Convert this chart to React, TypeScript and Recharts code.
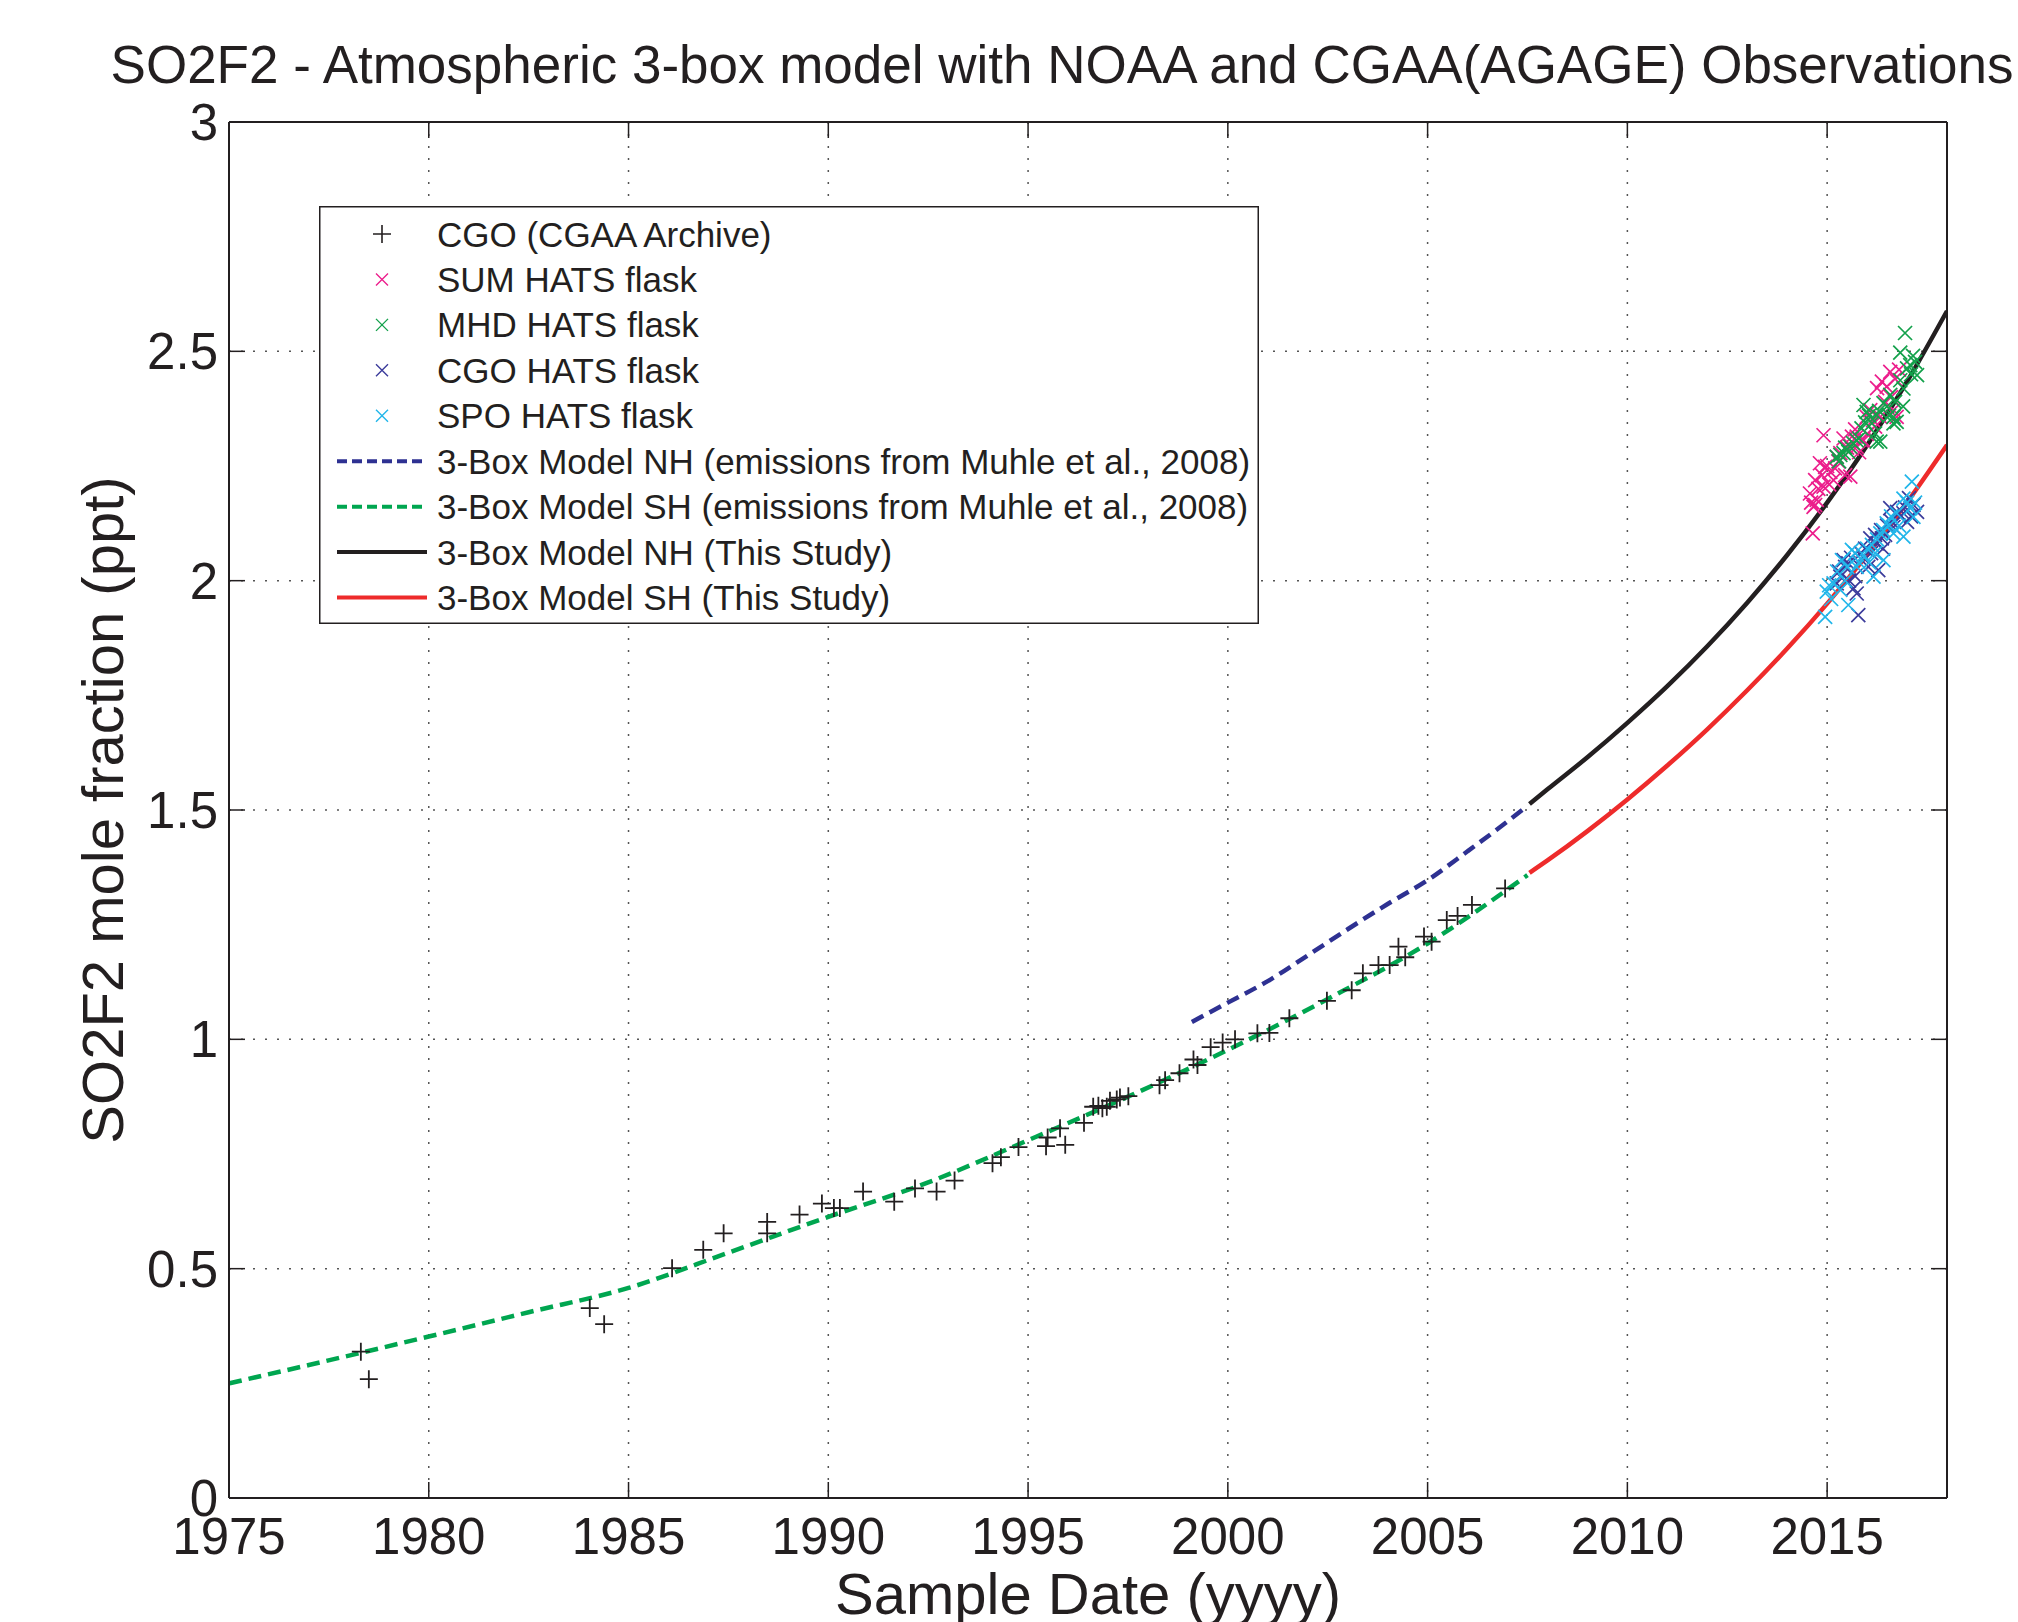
import React from 'react';
import { ComposedChart, Line, Scatter, XAxis, YAxis, CartesianGrid, Legend } from 'recharts';

const xTicks = [1975, 1980, 1985, 1990, 1995, 2000, 2005, 2010, 2015];
const yTicks = [0, 0.5, 1, 1.5, 2, 2.5, 3];

const cgoArchive: [number, number][] = [
  [1978.3, 0.319], [1978.5, 0.259], [1984.03, 0.414], [1984.39, 0.379], [1986.09, 0.501],
  [1986.87, 0.541], [1987.38, 0.577], [1988.47, 0.602], [1988.47, 0.577], [1989.28, 0.618],
  [1989.84, 0.642], [1990.14, 0.632], [1990.29, 0.632], [1990.87, 0.668], [1991.65, 0.646],
  [1992.17, 0.675], [1992.71, 0.668], [1993.16, 0.692], [1994.11, 0.73], [1994.32, 0.743],
  [1994.76, 0.765], [1995.45, 0.767], [1995.49, 0.786], [1995.8, 0.806], [1995.93, 0.77],
  [1996.4, 0.818], [1996.63, 0.853], [1996.76, 0.855], [1996.86, 0.85], [1996.97, 0.853],
  [1997.05, 0.866], [1997.22, 0.869], [1997.3, 0.873], [1997.51, 0.876], [1998.29, 0.9],
  [1998.43, 0.911], [1998.79, 0.926], [1999.14, 0.956], [1999.24, 0.944], [1999.57, 0.983],
  [1999.87, 0.993], [2000.18, 1.0], [2000.74, 1.013], [2001.04, 1.014], [2001.54, 1.046],
  [2002.48, 1.084], [2003.1, 1.107], [2003.38, 1.144], [2003.77, 1.162], [2004.05, 1.162],
  [2004.27, 1.202], [2004.44, 1.179], [2004.91, 1.224], [2005.1, 1.213], [2005.48, 1.26],
  [2005.75, 1.269], [2006.11, 1.293], [2006.94, 1.329],
];

const sumHats: [number, number][] = [
  [2014.57, 2.19], [2014.6, 2.17], [2014.64, 2.103], [2014.66, 2.161], [2014.7, 2.219],
  [2014.7, 2.165], [2014.74, 2.176], [2014.78, 2.2], [2014.82, 2.256], [2014.87, 2.23],
  [2014.91, 2.317], [2014.91, 2.205], [2014.95, 2.248], [2015.0, 2.25], [2015.05, 2.21],
  [2015.08, 2.237], [2015.16, 2.219], [2015.2, 2.245], [2015.24, 2.27], [2015.28, 2.26],
  [2015.33, 2.278], [2015.41, 2.31], [2015.45, 2.23], [2015.5, 2.29], [2015.58, 2.227],
  [2015.62, 2.314], [2015.62, 2.288], [2015.7, 2.33], [2015.74, 2.292], [2015.74, 2.314],
  [2015.8, 2.28], [2015.86, 2.306], [2015.91, 2.306], [2015.99, 2.357], [2016.0, 2.32],
  [2016.08, 2.372], [2016.15, 2.35], [2016.2, 2.336], [2016.25, 2.42], [2016.33, 2.357],
  [2016.37, 2.434], [2016.45, 2.39], [2016.49, 2.423], [2016.58, 2.455], [2016.6, 2.4],
  [2016.66, 2.372], [2016.7, 2.44], [2016.74, 2.357], [2016.8, 2.46],
];

const mhdHats: [number, number][] = [
  [2015.24, 2.27], [2015.3, 2.26], [2015.33, 2.274], [2015.41, 2.278], [2015.45, 2.29],
  [2015.53, 2.281], [2015.58, 2.292], [2015.65, 2.3], [2015.74, 2.306], [2015.8, 2.31],
  [2015.86, 2.332], [2015.91, 2.383], [2015.95, 2.345], [2015.99, 2.368], [2016.05, 2.36],
  [2016.12, 2.343], [2016.2, 2.321], [2016.24, 2.361], [2016.24, 2.303], [2016.3, 2.37],
  [2016.33, 2.303], [2016.41, 2.387], [2016.5, 2.38], [2016.55, 2.36], [2016.58, 2.405],
  [2016.66, 2.357], [2016.66, 2.343], [2016.7, 2.39], [2016.74, 2.346], [2016.83, 2.437],
  [2016.83, 2.497], [2016.9, 2.38], [2016.91, 2.419], [2016.95, 2.54], [2017.0, 2.463],
  [2017.08, 2.47], [2017.1, 2.45], [2017.15, 2.49], [2017.2, 2.477], [2017.25, 2.448],
];

const cgoHats: [number, number][] = [
  [2015.24, 1.994], [2015.3, 2.02], [2015.33, 2.009], [2015.41, 2.045], [2015.45, 2.03],
  [2015.53, 2.038], [2015.55, 2.0], [2015.6, 2.05], [2015.66, 1.983], [2015.7, 2.01],
  [2015.74, 1.972], [2015.78, 1.925], [2015.85, 2.06], [2015.9, 2.05], [2015.95, 2.07],
  [2016.03, 2.03], [2016.08, 2.092], [2016.1, 2.06], [2016.2, 2.1], [2016.24, 2.081],
  [2016.28, 2.023], [2016.35, 2.11], [2016.37, 2.092], [2016.4, 2.07], [2016.45, 2.1],
  [2016.5, 2.12], [2016.58, 2.158], [2016.6, 2.13], [2016.66, 2.117], [2016.75, 2.15],
  [2016.83, 2.139], [2016.91, 2.147], [2016.95, 2.16], [2017.0, 2.128], [2017.05, 2.18],
  [2017.1, 2.14], [2017.16, 2.165], [2017.25, 2.15],
];

const spoHats: [number, number][] = [
  [2014.95, 1.921], [2014.99, 1.976], [2015.05, 1.99], [2015.1, 1.96], [2015.16, 1.994],
  [2015.25, 2.02], [2015.33, 1.98], [2015.37, 2.045], [2015.45, 2.0], [2015.5, 2.03],
  [2015.53, 1.947], [2015.62, 2.067], [2015.7, 2.06], [2015.74, 2.03], [2015.8, 2.04],
  [2015.91, 2.056], [2016.0, 2.07], [2016.05, 2.04], [2016.12, 2.078], [2016.16, 2.009],
  [2016.2, 2.06], [2016.25, 2.09], [2016.33, 2.103], [2016.4, 2.11], [2016.41, 2.045],
  [2016.49, 2.125], [2016.55, 2.12], [2016.6, 2.14], [2016.66, 2.103], [2016.74, 2.147],
  [2016.8, 2.12], [2016.91, 2.179], [2016.91, 2.096], [2017.0, 2.17], [2017.08, 2.158],
  [2017.12, 2.216], [2017.16, 2.139], [2017.2, 2.17],
];

const modelNhMuhle: [number, number][] = [
  [1999.1, 1.038], [2000, 1.08], [2001, 1.127], [2002, 1.183], [2003, 1.24],
  [2004, 1.295], [2005, 1.347], [2006, 1.41], [2007, 1.475], [2007.5, 1.509],
];

const modelShMuhle: [number, number][] = [
  [1975, 0.25], [1977, 0.29], [1980, 0.352], [1982.5, 0.405], [1985, 0.458],
  [1987.5, 0.535], [1990, 0.613], [1992.5, 0.688], [1995, 0.78], [1997.5, 0.875],
  [2000, 0.977], [2002.5, 1.088], [2005, 1.209], [2007.5, 1.358],
];

const modelNhStudy: [number, number][] = [
  [2007.55, 1.513], [2008, 1.545], [2009, 1.615], [2010, 1.69], [2011, 1.77],
  [2012, 1.857], [2013, 1.952], [2014, 2.056], [2015, 2.17], [2016, 2.295],
  [2017, 2.434], [2018, 2.588],
];

const modelShStudy: [number, number][] = [
  [2007.55, 1.363], [2008, 1.39], [2009, 1.454], [2010, 1.523], [2011, 1.597],
  [2012, 1.676], [2013, 1.761], [2014, 1.852], [2015, 1.95], [2016, 2.056],
  [2017, 2.171], [2018, 2.296],
];

const C = {
  ink: '#231f20',
  pink: '#ec1e8c',
  mhd: '#13a14b',
  cgo: '#3b3b9b',
  spo: '#21b6ea',
  greenDash: '#00a650',
  blueDash: '#2e3192',
  red: '#ee2b2b',
  black: '#231f20',
};

const FONT = '"Liberation Sans", Arial, Helvetica, sans-serif';

const toPts = (a: [number, number][]) => a.map(([x, y]) => ({ x, y }));

const plusShape = (color: string) => (props: any) => {
  const { cx, cy } = props;
  if (cx == null || cy == null) return <g />;
  const s = 9;
  return (
    <path d={`M${cx - s},${cy}H${cx + s}M${cx},${cy - s}V${cy + s}`} stroke={color} strokeWidth={1.8} fill="none" />
  );
};

const xShape = (color: string) => (props: any) => {
  const { cx, cy } = props;
  if (cx == null || cy == null) return <g />;
  const s = 7;
  return (
    <path
      d={`M${cx - s},${cy - s}L${cx + s},${cy + s}M${cx - s},${cy + s}L${cx + s},${cy - s}`}
      stroke={color}
      strokeWidth={1.7}
      fill="none"
    />
  );
};

type LegendItem = { label: string; kind: 'plus' | 'x' | 'dash' | 'solid'; color: string };
const legendItems: LegendItem[] = [
  { label: 'CGO (CGAA Archive)', kind: 'plus', color: C.ink },
  { label: 'SUM HATS flask', kind: 'x', color: C.pink },
  { label: 'MHD HATS flask', kind: 'x', color: C.mhd },
  { label: 'CGO HATS flask', kind: 'x', color: C.cgo },
  { label: 'SPO HATS flask', kind: 'x', color: C.spo },
  { label: '3-Box Model NH (emissions from Muhle et al., 2008)', kind: 'dash', color: C.blueDash },
  { label: '3-Box Model SH (emissions from Muhle et al., 2008)', kind: 'dash', color: C.greenDash },
  { label: '3-Box Model NH (This Study)', kind: 'solid', color: C.black },
  { label: '3-Box Model SH (This Study)', kind: 'solid', color: C.red },
];

const LegendBox = () => {
  const W = 940;
  const H = 418;
  return (
    <svg width={W} height={H} style={{ display: 'block' }}>
      <rect x={0.75} y={0.75} width={W - 1.5} height={H - 1.5} fill="#fff" stroke={C.ink} strokeWidth={1.5} />
      {legendItems.map((it, i) => {
        const cy = 28 + i * 45.44;
        let mark: React.ReactNode = null;
        if (it.kind === 'plus') {
          mark = <path d={`M${54},${cy}H${72}M${63},${cy - 9}V${cy + 9}`} stroke={it.color} strokeWidth={1.6} fill="none" />;
        } else if (it.kind === 'x') {
          const s = 6;
          mark = (
            <path
              d={`M${63 - s},${cy - s}L${63 + s},${cy + s}M${63 - s},${cy + s}L${63 + s},${cy - s}`}
              stroke={it.color}
              strokeWidth={1.4}
              fill="none"
            />
          );
        } else {
          mark = (
            <line
              x1={18}
              x2={108}
              y1={cy}
              y2={cy}
              stroke={it.color}
              strokeWidth={4}
              strokeDasharray={it.kind === 'dash' ? '10 5' : undefined}
            />
          );
        }
        return (
          <g key={it.label}>
            {mark}
            <text x={118} y={cy + 12.5} fontSize={35} fontFamily={FONT} fill={C.ink}>
              {it.label}
            </text>
          </g>
        );
      })}
    </svg>
  );
};

const TitleLabel = () => (
  <text x={1062} y={83} textAnchor="middle" fontSize={53} fontFamily={FONT} fill={C.ink}>
    SO2F2 - Atmospheric 3-box model with NOAA and CGAA(AGAGE) Observations
  </text>
);

const XLabel = () => (
  <text x={1088} y={1614} textAnchor="middle" fontSize={58} fontFamily={FONT} fill={C.ink}>
    Sample Date (yyyy)
  </text>
);

const YLabel = () => (
  <text x={123} y={810} transform="rotate(-90 123 810)" textAnchor="middle" fontSize={58} fontFamily={FONT} fill={C.ink}>
    SO2F2 mole fraction (ppt)
  </text>
);

const tickStyle = { fontSize: 51, fontFamily: FONT, fill: C.ink };

export default function App() {
  return (
    <div style={{ position: 'absolute', left: 0, top: 0, width: 2018, height: 1622, background: '#fff' }}>
      <ComposedChart width={2018} height={1622} margin={{ top: 121, right: 70, bottom: 0, left: 0 }}>
        <CartesianGrid stroke="#555" strokeWidth={1.5} strokeDasharray="2 10" />
        <XAxis
          dataKey="x"
          type="number"
          domain={[1975, 2018]}
          ticks={xTicks}
          allowDataOverflow
          height={124}
          tickSize={-16}
          tickMargin={36}
          tick={tickStyle}
          stroke={C.ink}
          axisLine={{ stroke: C.ink, strokeWidth: 2 }}
          tickLine={{ stroke: C.ink, strokeWidth: 1.5 }}
          label={{ content: XLabel } as any}
        />
        <XAxis
          xAxisId="top"
          orientation="top"
          dataKey="x"
          type="number"
          domain={[1975, 2018]}
          ticks={xTicks}
          allowDataOverflow
          height={1}
          tickSize={-16}
          tickFormatter={() => ''}
          axisLine={{ stroke: C.ink, strokeWidth: 2 }}
          tickLine={{ stroke: C.ink, strokeWidth: 1.5 }}
          label={{ content: TitleLabel } as any}
        />
        <YAxis
          dataKey="y"
          type="number"
          domain={[0, 3]}
          ticks={yTicks}
          allowDataOverflow
          width={229}
          tickSize={-16}
          tickMargin={27}
          tick={tickStyle}
          tickFormatter={(v: number) => String(v)}
          axisLine={{ stroke: C.ink, strokeWidth: 2 }}
          tickLine={{ stroke: C.ink, strokeWidth: 1.5 }}
          label={{ content: YLabel } as any}
        />
        <YAxis
          yAxisId="right"
          orientation="right"
          dataKey="y"
          type="number"
          domain={[0, 3]}
          ticks={yTicks}
          allowDataOverflow
          width={1}
          tickSize={-16}
          tickFormatter={() => ''}
          axisLine={{ stroke: C.ink, strokeWidth: 2 }}
          tickLine={{ stroke: C.ink, strokeWidth: 1.5 }}
        />
        <Scatter name="SUM HATS flask" data={toPts(sumHats)} dataKey="y" shape={xShape(C.pink)} isAnimationActive={false} />
        <Scatter name="MHD HATS flask" data={toPts(mhdHats)} dataKey="y" shape={xShape(C.mhd)} isAnimationActive={false} />
        <Scatter name="CGO HATS flask" data={toPts(cgoHats)} dataKey="y" shape={xShape(C.cgo)} isAnimationActive={false} />
        <Scatter name="SPO HATS flask" data={toPts(spoHats)} dataKey="y" shape={xShape(C.spo)} isAnimationActive={false} />
        <Line
          name="3-Box Model NH (emissions from Muhle et al., 2008)"
          data={toPts(modelNhMuhle)}
          dataKey="y"
          type="monotone"
          stroke={C.blueDash}
          strokeWidth={4.5}
          strokeDasharray="13 7"
          dot={false}
          activeDot={false}
          isAnimationActive={false}
        />
        <Line
          name="3-Box Model SH (emissions from Muhle et al., 2008)"
          data={toPts(modelShMuhle)}
          dataKey="y"
          type="monotone"
          stroke={C.greenDash}
          strokeWidth={4.5}
          strokeDasharray="13 7"
          dot={false}
          activeDot={false}
          isAnimationActive={false}
        />
        <Line
          name="3-Box Model NH (This Study)"
          data={toPts(modelNhStudy)}
          dataKey="y"
          type="monotone"
          stroke={C.black}
          strokeWidth={4.5}
          dot={false}
          activeDot={false}
          isAnimationActive={false}
        />
        <Line
          name="3-Box Model SH (This Study)"
          data={toPts(modelShStudy)}
          dataKey="y"
          type="monotone"
          stroke={C.red}
          strokeWidth={4.5}
          dot={false}
          activeDot={false}
          isAnimationActive={false}
        />
        <Scatter name="CGO (CGAA Archive)" data={toPts(cgoArchive)} dataKey="y" shape={plusShape(C.ink)} isAnimationActive={false} />
        <Legend
          layout="vertical"
          align="center"
          verticalAlign="middle"
          wrapperStyle={{ left: 319, top: 206, width: 940, height: 418 }}
          content={() => <LegendBox />}
        />
      </ComposedChart>
    </div>
  );
}
